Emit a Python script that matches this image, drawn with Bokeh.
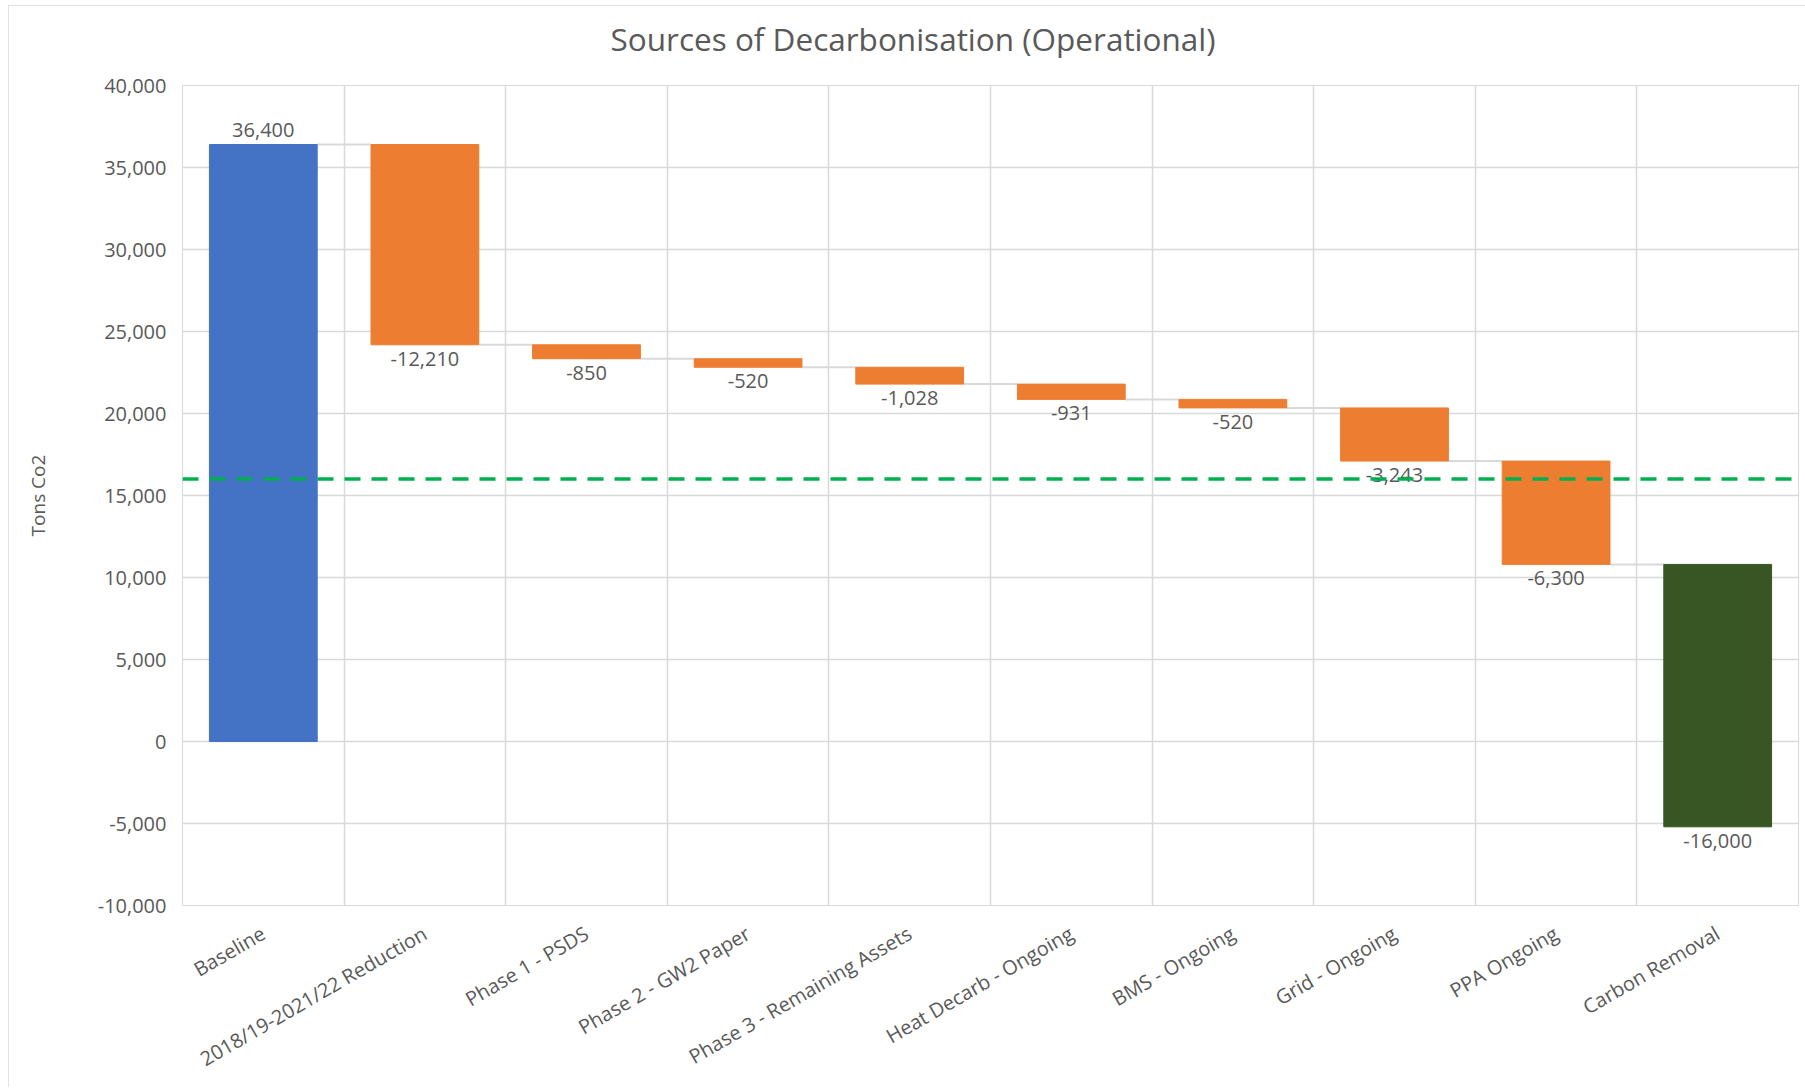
import math
import numpy as np
from bokeh.plotting import figure
from bokeh.models import Range1d, FixedTicker, NumeralTickFormatter, ColumnDataSource, Span, Title
from bokeh.core.properties import value
from bokeh.embed import file_html
from bokeh.resources import INLINE

# ---------------- data ----------------
title_text = "Sources of Decarbonisation (Operational)"
y_axis_label = "Tons Co2"
categories = [
    "Baseline",
    "2018/19-2021/22 Reduction",
    "Phase 1 - PSDS",
    "Phase 2 - GW2 Paper",
    "Phase 3 - Remaining Assets",
    "Heat Decarb - Ongoing",
    "BMS - Ongoing",
    "Grid - Ongoing",
    "PPA Ongoing",
    "Carbon Removal",
]
changes = [36400, -12210, -850, -520, -1028, -931, -520, -3243, -6300, -16000]
kinds = ["total", "decrease", "decrease", "decrease", "decrease",
         "decrease", "decrease", "decrease", "decrease", "removal"]
target_level = 16000
y_ticks = [-10000, -5000, 0, 5000, 10000, 15000, 20000, 25000, 30000, 35000, 40000]

# ---------------- styles ----------------
kind_colors = {"total": "#4472C4", "decrease": "#ED7D31", "removal": "#375623"}
FONT = "Open Sans"
TEXT_COLOR = "#595959"
GRID_COLOR = "#D9D9D9"
BAR_WIDTH = 0.667

n = len(categories)
ends = np.cumsum(changes)
starts = ends - np.array(changes)
tops = np.maximum(starts, ends)
bottoms = np.minimum(starts, ends)
xs = np.arange(n) + 0.5
colors = [kind_colors[k] for k in kinds]
labels = [f"{v:,}" for v in changes]

bar_src = ColumnDataSource(dict(x=xs, top=tops, bottom=bottoms, color=colors))

pos_idx = [i for i in range(n) if changes[i] >= 0]
neg_idx = [i for i in range(n) if changes[i] < 0]
pos_src = ColumnDataSource(dict(x=xs[pos_idx], y=tops[pos_idx], t=[labels[i] for i in pos_idx]))
neg_src = ColumnDataSource(dict(x=xs[neg_idx], y=bottoms[neg_idx], t=[labels[i] for i in neg_idx]))

conn_src = ColumnDataSource(dict(
    x0=xs[:-1] + BAR_WIDTH / 2,
    x1=xs[1:] - BAR_WIDTH / 2,
    y=ends[:-1],
))

W, H = 1797, 1082
MB_L, MB_R, MB_T, MB_B = 174, 7, 80, 182

p = figure(
    width=W, height=H,
    x_range=Range1d(0, n), y_range=Range1d(y_ticks[0], y_ticks[-1]),
    output_backend="svg", toolbar_location=None,
    min_border_left=MB_L, min_border_right=MB_R, min_border_top=MB_T, min_border_bottom=MB_B,
    title=title_text,
)
p.styles = {"margin": "5px 0px 0px 8px",
            "outline": "1px solid #D9D9D9", "outline-offset": "-1px"}
p.outline_line_color = GRID_COLOR
p.background_fill_color = "white"
p.border_fill_color = "white"

# chart title
p.title.align = "left"
p.title.offset = 428
p.title.standoff = 0
p.title.text_font = FONT
p.title.text_font_size = "31.5px"
p.title.text_font_style = "normal"
p.title.text_color = TEXT_COLOR

# blank spacer between the frame and the title
spacer = Title(text="\u00a0", text_font=FONT, text_font_size="10px", standoff=10)
p.add_layout(spacer, "above")

# axes
for ax in (p.xaxis[0], p.yaxis[0]):
    ax.axis_line_color = None
    ax.major_tick_line_color = None
    ax.minor_tick_line_color = None
    ax.major_tick_out = 0
    ax.major_label_text_font = FONT
    ax.major_label_text_font_size = "20px"
    ax.major_label_text_color = TEXT_COLOR

p.yaxis.ticker = FixedTicker(ticks=y_ticks)
p.yaxis.formatter = NumeralTickFormatter(format="0,0")
p.yaxis.major_label_standoff = 16
p.yaxis.axis_label = y_axis_label
p.yaxis.axis_label_text_font = FONT
p.yaxis.axis_label_text_font_size = "19px"
p.yaxis.axis_label_text_font_style = "normal"
p.yaxis.axis_label_text_color = TEXT_COLOR
p.yaxis.axis_label_standoff = 44

p.xaxis.ticker = FixedTicker(ticks=list(xs))
p.xaxis.major_label_overrides = {float(x): c for x, c in zip(xs, categories)}
p.xaxis.major_label_orientation = math.pi / 6
p.xaxis.major_label_standoff = 26

# grids
p.xgrid.ticker = FixedTicker(ticks=list(range(n + 1)))
p.xgrid.grid_line_color = GRID_COLOR
p.xgrid.grid_line_width = 1.5
p.ygrid.grid_line_color = GRID_COLOR
p.ygrid.grid_line_width = 1.5

# connectors
p.segment(x0="x0", y0="y", x1="x1", y1="y", source=conn_src,
          line_color=GRID_COLOR, line_width=2)

# bars
p.vbar(x="x", top="top", bottom="bottom", width=BAR_WIDTH, source=bar_src,
       fill_color="color", line_color="color", line_width=1)

# data labels
p.text(x="x", y="y", text="t", source=pos_src, text_align="center", text_baseline="bottom",
       y_offset=-8, text_font=value(FONT), text_font_size="20px", text_color=TEXT_COLOR)
p.text(x="x", y="y", text="t", source=neg_src, text_align="center", text_baseline="top",
       y_offset=7, text_font=value(FONT), text_font_size="20px", text_color=TEXT_COLOR)

# target line
target = Span(location=target_level, dimension="width", line_color="#00B050",
              line_width=3.5, line_dash="16 11")
p.add_layout(target)

open("out.html", "w").write(file_html(p, INLINE))
